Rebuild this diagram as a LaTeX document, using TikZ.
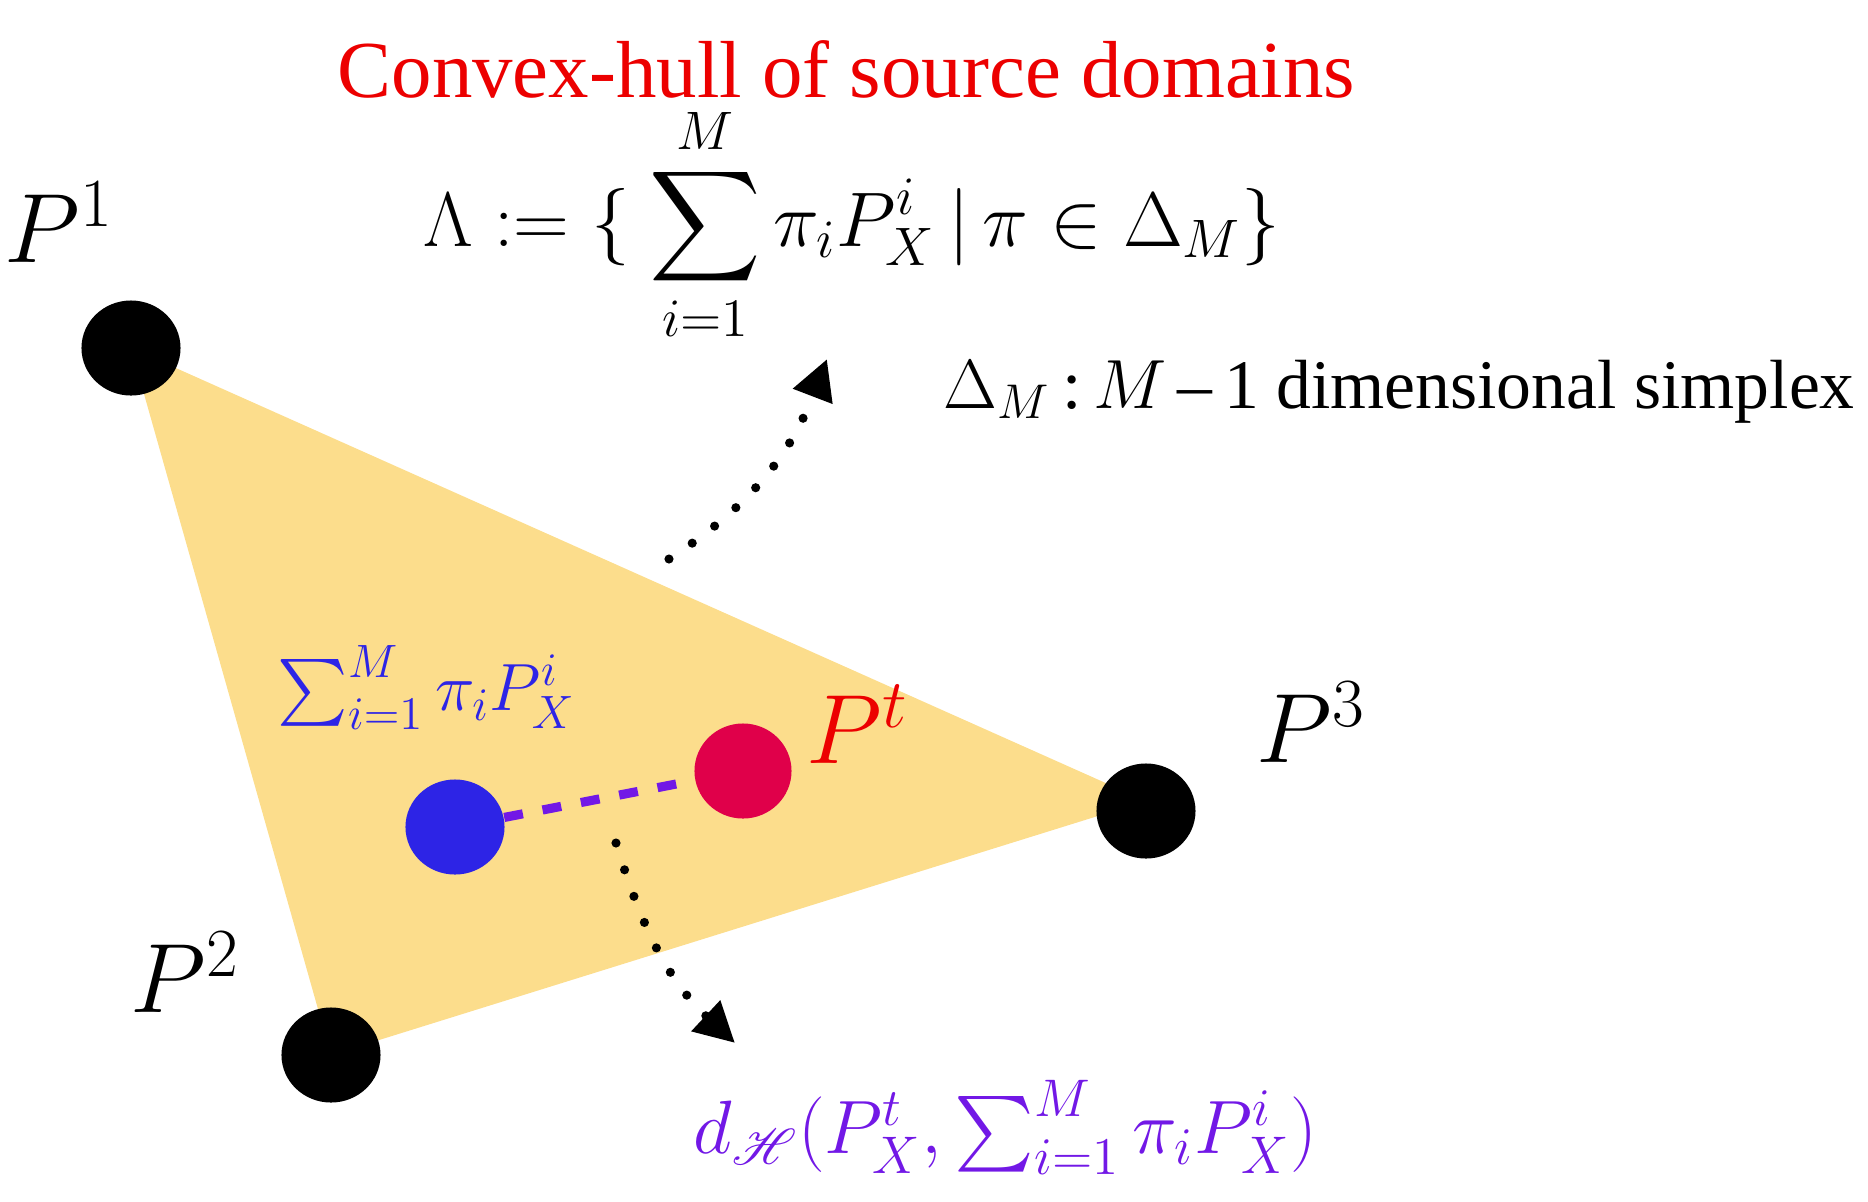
\RequirePackage{fix-cm}
\documentclass[tikz,border=0pt]{standalone}
\usepackage{amsmath,amssymb,mathrsfs}
\usepackage{fontspec}
\setmainfont{Liberation Serif}
\usepackage{xcolor}
\usepackage{tikz}
\usetikzlibrary{arrows.meta,shapes.geometric}

\definecolor{hullyellow}{RGB}{252,221,140}
\definecolor{mixblue}{RGB}{45,36,230}
\definecolor{targetred}{RGB}{224,0,74}
\definecolor{labelred}{RGB}{236,0,0}
\definecolor{distpurple}{RGB}{114,24,230}

\begin{document}
\begin{tikzpicture}[
  x=0.01cm, y=0.01cm,
  every node/.style={inner sep=0pt},
  srcdot/.style={ellipse, fill=black, minimum width=0.99cm, minimum height=0.95cm},
  mixdot/.style={ellipse, fill=mixblue, minimum width=0.99cm, minimum height=0.95cm},
  tgtdot/.style={ellipse, fill=targetred, minimum width=0.97cm, minimum height=0.95cm},
  plabel/.style={anchor=base west, font=\fontsize{28}{34}\selectfont},
  pointer/.style={line width=2.6pt, line cap=round, dash pattern=on 0pt off 8pt,
    -{Triangle[length=4mm, width=4mm]}},
  dist/.style={distpurple, line width=2.6pt, dash pattern=on 5.4pt off 5.7pt},
]
\useasboundingbox (0,0) rectangle (1868,-1202);

% Hull corners
\coordinate (v1) at (131,-348);
\coordinate (v2) at (331,-1055);
\coordinate (v3) at (1146,-801);
\fill[hullyellow] (v1) -- (v2) -- (v3) -- cycle;

% Source domains
\node[srcdot] (p1) at (v1) {};
\node[srcdot] (p2) at (v2) {};
\node[srcdot] (p3) at (1146,-811) {};
\node[plabel] (l1) at (4,-262) {$P^1$};
\node[plabel] (l2) at (130,-1012) {$P^2$};
\node[plabel] (l3) at (1256,-762) {$P^3$};

% Mixture and target
\node[mixdot] (mix) at (455,-827) {};
\node[tgtdot] (tgt) at (743,-771) {};
\node[plabel, text=labelred] (lt) at (806,-763) {$P^t$};
\node[anchor=base west, text=mixblue, font=\fontsize{19}{23}\selectfont] (lmix) at (277,-710)
  {$\sum_{i=1}^{M} \pi_i P_X^i$};
\draw[dist] (mix) -- (tgt);

% Texts on top
\node[anchor=base west, text=labelred, font=\fontsize{23}{28}\selectfont] (title) at (337,-97)
  {Convex-hull of source domains};
\node[anchor=base west, font=\fontsize{22}{27}\selectfont] (hull) at (423,-246)
  {$\displaystyle \Lambda := \{\ \sum_{i=1}^{M} \pi_i P_X^i \,|\, \pi \in \Delta_M \}$};
\node[anchor=base west, font=\fontsize{19.8}{24}\selectfont] (simplex) at (943,-408)
  {$\Delta_M$\,:\,$M$\,--\,1 dimensional simplex};
\node[anchor=base west, text=distpurple, font=\fontsize{21.5}{26}\selectfont] (ldist) at (693,-1153)
  {$d_{\mathscr{H}}(P_X^t, \sum_{i=1}^{M} \pi_i P_X^i)$};

% Arrows
\coordinate (a1) at (669,-559);
\coordinate (b1) at (827,-359);
\coordinate (a2) at (616,-843);
\coordinate (b2) at (735,-1043);
\draw[pointer] (a1) to[out=33, in=249] (b1);
\draw[pointer] (a2) to[out=-73, in=137] (b2);
\end{tikzpicture}
\end{document}
